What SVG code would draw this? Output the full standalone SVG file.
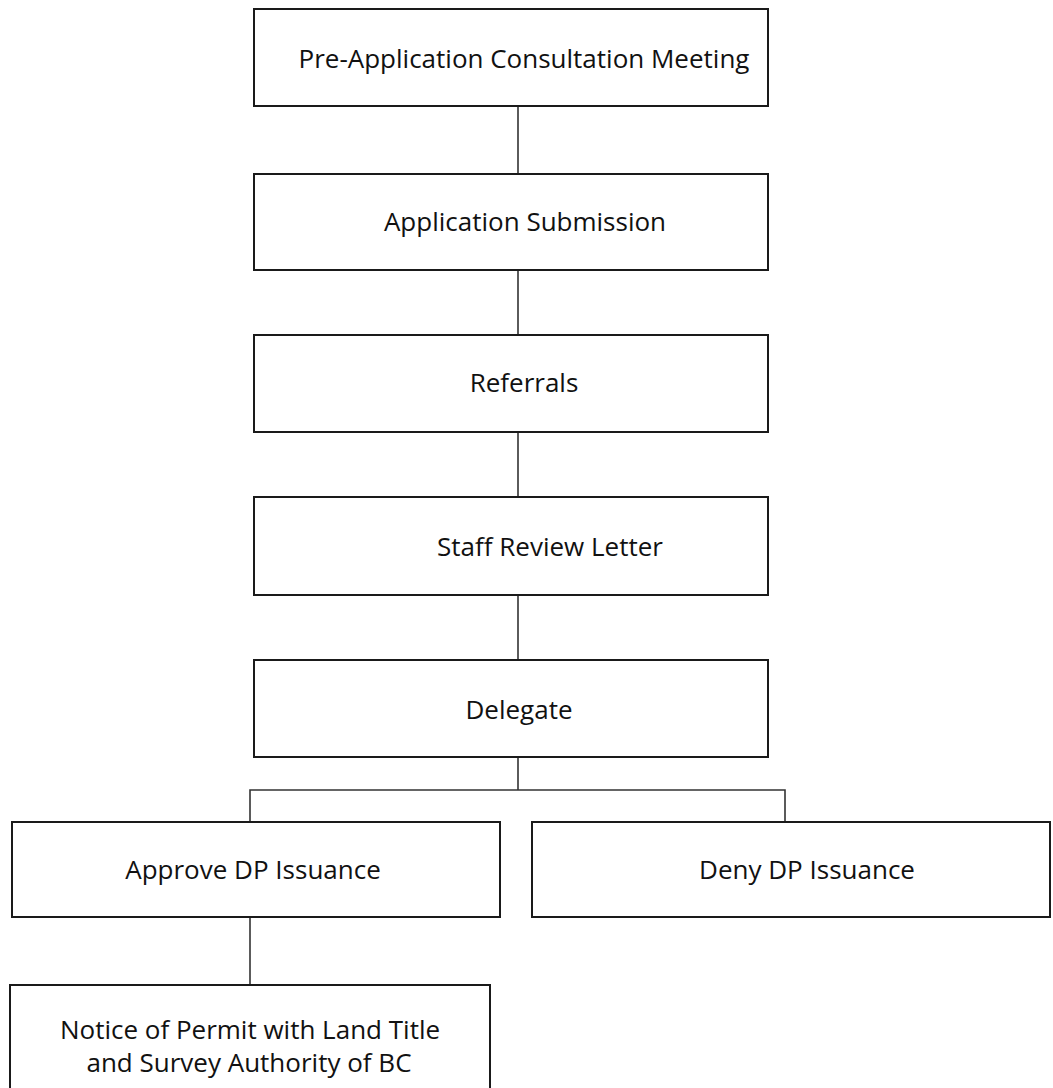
<svg xmlns="http://www.w3.org/2000/svg" width="1053" height="1088" viewBox="0 0 1053 1088">
  <style>
    .box { fill: #ffffff; stroke: #1a1a1a; stroke-width: 2; }
    .label { font-family: "Open Sans", "Noto Sans", "DejaVu Sans", sans-serif; font-size: 26px; fill: #111111; text-anchor: middle; dominant-baseline: central; }
    .link { fill: none; stroke: #333333; stroke-width: 1.6; }
  </style>
  <rect width="1053" height="1088" fill="#ffffff"/>

  <!-- connectors -->
  <g id="connectors">
    <line class="link" x1="518" y1="106" x2="518" y2="174"/>
    <line class="link" x1="518" y1="270" x2="518" y2="335"/>
    <line class="link" x1="518" y1="432" x2="518" y2="497"/>
    <line class="link" x1="518" y1="595" x2="518" y2="660"/>
    <line class="link" x1="518" y1="757" x2="518" y2="790"/>
    <polyline class="link" points="250,822 250,790 785,790 785,822"/>
    <line class="link" x1="250" y1="917" x2="250" y2="985"/>
  </g>

  <g id="pre-application">
    <rect class="box" x="254" y="9" width="514" height="97"/>
    <text class="label" x="524" y="58">Pre-Application Consultation Meeting</text>
  </g>

  <g id="application-submission">
    <rect class="box" x="254" y="174" width="514" height="96"/>
    <text class="label" x="525" y="221">Application Submission</text>
  </g>

  <g id="referrals">
    <rect class="box" x="254" y="335" width="514" height="97"/>
    <text class="label" x="524" y="382">Referrals</text>
  </g>

  <g id="staff-review">
    <rect class="box" x="254" y="497" width="514" height="98"/>
    <text class="label" x="550" y="546">Staff Review Letter</text>
  </g>

  <g id="delegate">
    <rect class="box" x="254" y="660" width="514" height="97"/>
    <text class="label" x="519" y="709">Delegate</text>
  </g>

  <g id="approve">
    <rect class="box" x="12" y="822" width="488" height="95"/>
    <text class="label" x="253" y="869">Approve DP Issuance</text>
  </g>

  <g id="deny">
    <rect class="box" x="532" y="822" width="518" height="95"/>
    <text class="label" x="807" y="869">Deny DP Issuance</text>
  </g>

  <g id="notice">
    <rect class="box" x="10" y="985" width="480" height="110"/>
    <text class="label" x="250" y="1029">Notice of Permit with Land Title</text>
    <text class="label" x="249" y="1062">and Survey Authority of BC</text>
  </g>
</svg>
